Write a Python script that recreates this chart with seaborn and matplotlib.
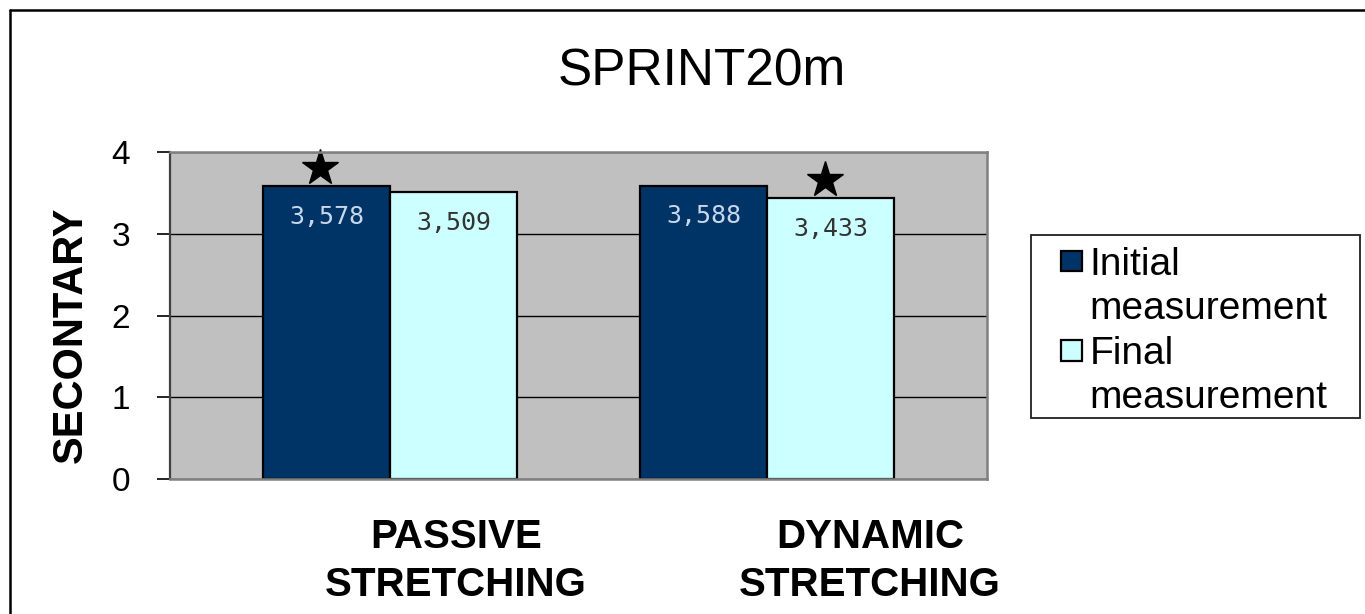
import matplotlib
matplotlib.use("Agg")
import matplotlib.pyplot as plt
from matplotlib.patches import Rectangle, Patch
from matplotlib.lines import Line2D
from matplotlib.legend_handler import HandlerPatch
from matplotlib.transforms import ScaledTranslation
import pandas as pd
import seaborn as sns

# ---- data -------------------------------------------------------------
groups = ["PASSIVE\nSTRETCHING", "DYNAMIC\nSTRETCHING"]
measures = ["Initial measurement", "Final measurement"]
initial = [3.578, 3.588]
final = [3.509, 3.433]
star_initial = [True, False]   # significant change marker
star_final = [False, True]
yticks = [0, 1, 2, 3, 4]

navy = "#003366"
light = "#CCFFFF"

sns.set_style("white")
plt.rcParams["font.family"] = ["Liberation Sans", "DejaVu Sans"]
plt.rcParams.update({"text.color": "black", "axes.labelcolor": "black",
                     "xtick.color": "black", "ytick.color": "black"})

df = pd.DataFrame({
    "group": groups * 2,
    "measure": [measures[0]] * 2 + [measures[1]] * 2,
    "value": initial + final,
})

W, H, DPI = 1365, 614, 100
fig = plt.figure(figsize=(W / DPI, H / DPI), dpi=DPI)
ax = fig.add_axes([170 / W, 1 - 479 / H, (987 - 170) / W, (479 - 152) / H])

sns.barplot(data=df, x="group", y="value", hue="measure", order=groups,
            hue_order=measures, palette=[navy, light], width=0.674, gap=0,
            edgecolor="black", linewidth=1.6, saturation=1, legend=False,
            errorbar=None, ax=ax)

ax.set_facecolor("#C0C0C0")
ax.set_xlim(-0.5836, 1.5836)
ax.set_ylim(0, 4)
ax.set_yticks(yticks)
ax.set_yticklabels([str(t) for t in yticks], fontsize=24)
ax.yaxis.grid(True, color="black", linewidth=1)
ax.xaxis.grid(False)
ax.set_axisbelow(True)
ax.tick_params(axis="y", length=9.4, width=1.2, color="black", pad=19.4,
               left=True)
ax.tick_params(axis="x", length=0, pad=28)

for side in ["top", "right", "bottom"]:
    ax.spines[side].set_color("#808080")
    ax.spines[side].set_linewidth(1.8)
ax.spines["left"].set_color("#404040")
ax.spines["left"].set_linewidth(1.6)

# category labels, shifted to the right of each group
ax.set_xticks([0, 1])
ax.set_xticklabels(groups, fontsize=29, fontweight="bold", linespacing=1.33)
shifts_px = [66, 103]
for lab, dx in zip(ax.get_xticklabels(), shifts_px):
    lab.set_transform(lab.get_transform()
                      + ScaledTranslation(dx / DPI, 0, fig.dpi_scale_trans))
ax.set_xlabel("")

ax.set_ylabel("SECONTARY", fontsize=30, fontweight="bold")
ax.yaxis.set_label_coords(-0.0967, 0.44)

# value labels and significance stars
label_colors = ["#c8d8ec", "#333333"]
star_flags = [star_initial, star_final]
star_tr = ax.transData + ScaledTranslation(-6 / DPI, 18 / DPI,
                                           fig.dpi_scale_trans)
for cont, col, flags in zip(ax.containers, label_colors, star_flags):
    for bar, flag in zip(cont, flags):
        cx = bar.get_x() + bar.get_width() / 2
        h = bar.get_height()
        ax.annotate(f"{h:.3f}".replace(".", ","), xy=(cx, h),
                    xytext=(0, -22), textcoords="offset points",
                    ha="center", va="center", fontsize=18, color=col,
                    family="DejaVu Sans Mono")
        if flag:
            ax.plot([cx], [h], marker="*", ms=27, color="black",
                    linestyle="none", transform=star_tr, clip_on=False)

# title
fig.text(702 / W, 1 - 85 / H, "SPRINT20m", ha="center", va="baseline",
         fontsize=37)


# legend: square swatch aligned to the first line of each label
def swatch(legend, orig_handle, xdescent, ydescent, width, height, fontsize):
    s = 15.0
    return Rectangle((width - s - xdescent, (height - s) / 2 - ydescent),
                     s, s)


handles = [Patch(facecolor=navy, edgecolor="black", linewidth=1.6),
           Patch(facecolor="none", edgecolor="none"),
           Patch(facecolor=light, edgecolor="black", linewidth=1.6),
           Patch(facecolor="none", edgecolor="none")]
labels = ["Initial", "measurement", "Final", "measurement"]
leg = fig.legend(handles, labels, loc="upper left",
                 bbox_to_anchor=(1031 / W, 1 - 235 / H),
                 bbox_transform=fig.transFigure, frameon=False,
                 fontsize=28, borderpad=0.3, borderaxespad=0,
                 handlelength=1.0, handleheight=0.7, handletextpad=0.2,
                 labelspacing=0.22,
                 handler_map={Patch: HandlerPatch(patch_func=swatch)})
fig.add_artist(Rectangle((1031 / W, 1 - 418 / H), (1360 - 1031) / W,
                         (418 - 235) / H, transform=fig.transFigure,
                         facecolor="none", edgecolor="#202020",
                         linewidth=1.3))

# outer chart border (left and top edges)
fig.add_artist(Line2D([9.5 / W, 9.5 / W], [0, 1 - 10 / H],
                      transform=fig.transFigure, color="black", lw=1.8))
fig.add_artist(Line2D([9.5 / W, 1], [1 - 10 / H, 1 - 10 / H],
                      transform=fig.transFigure, color="black", lw=1.8))

fig.savefig("out.png", dpi=DPI)
